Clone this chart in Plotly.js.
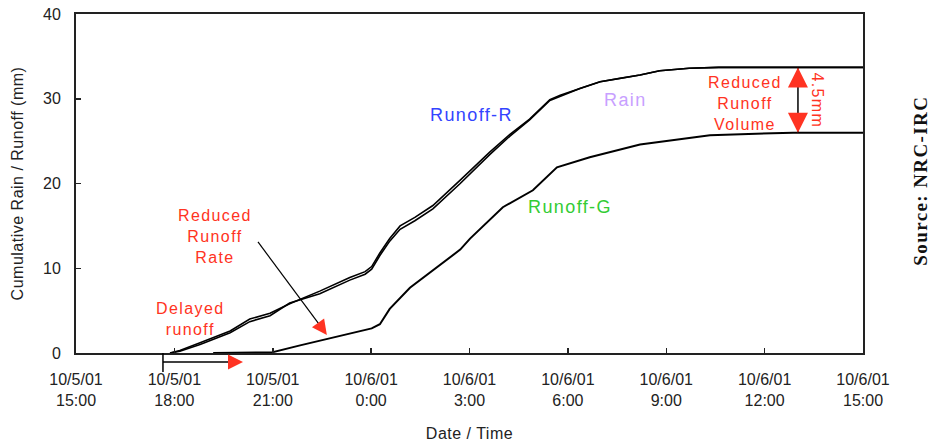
<!DOCTYPE html>
<html>
<head>
<meta charset="utf-8">
<script src="https://cdn.plot.ly/plotly-3.0.1.min.js"></script>
<style>
html,body{margin:0;padding:0;background:#fff;}
#chart{width:931px;height:443px;}
text.annotation-text{letter-spacing:1.4px;}
.g-xtitle text,.g-ytitle text{letter-spacing:0.5px;}
</style>
</head>
<body>
<div id="chart"></div>
<script>
// Cumulative rain (mm)
const rainTime = ["2001-10-05 17:52","2001-10-05 18:10","2001-10-05 18:47","2001-10-05 19:42","2001-10-05 20:18","2001-10-05 20:55","2001-10-05 21:31","2001-10-05 22:26","2001-10-05 23:21","2001-10-05 23:49","2001-10-06 00:01","2001-10-06 00:16","2001-10-06 00:34","2001-10-06 00:53","2001-10-06 01:20","2001-10-06 01:53","2001-10-06 02:43","2001-10-06 03:37","2001-10-06 04:14","2001-10-06 04:50","2001-10-06 05:27","2001-10-06 05:46","2001-10-06 06:22","2001-10-06 06:59","2001-10-06 07:35","2001-10-06 08:12","2001-10-06 08:48","2001-10-06 09:42","2001-10-06 10:36","2001-10-06 15:00"];
const rainValue = [0,0.3,1.2,2.6,4.0,4.7,5.8,7.3,8.9,9.6,10.2,11.8,13.5,15.0,16.0,17.4,20.4,23.7,25.8,27.6,29.9,30.4,31.2,32.0,32.4,32.8,33.3,33.6,33.7,33.7];
// Cumulative runoff, conventional roof (Runoff-R)
const runoffRTime = rainTime;
const runoffRValue = [0,0.2,1.0,2.4,3.7,4.4,5.9,7.0,8.6,9.3,9.9,11.5,13.2,14.6,15.6,17.0,20.0,23.4,25.6,27.5,29.8,30.3,31.2,32.0,32.4,32.8,33.3,33.6,33.7,33.7];
// Cumulative runoff, green roof (Runoff-G)
const runoffGTime = ["2001-10-05 19:11","2001-10-05 21:00","2001-10-05 21:50","2001-10-05 22:50","2001-10-05 23:40","2001-10-06 00:01","2001-10-06 00:16","2001-10-06 00:34","2001-10-06 01:11","2001-10-06 01:42","2001-10-06 02:11","2001-10-06 02:43","2001-10-06 03:01","2001-10-06 04:01","2001-10-06 04:56","2001-10-06 05:40","2001-10-06 06:40","2001-10-06 08:12","2001-10-06 10:20","2001-10-06 12:52","2001-10-06 15:00"];
const runoffGValue = [0,0.1,0.9,1.8,2.5,2.9,3.4,5.2,7.7,9.2,10.6,12.2,13.5,17.2,19.2,21.9,23.1,24.6,25.7,26.0,26.0];
// Axis ticks
const tickVals = ["2001-10-05 15:00","2001-10-05 18:00","2001-10-05 21:00","2001-10-06 00:00","2001-10-06 03:00","2001-10-06 06:00","2001-10-06 09:00","2001-10-06 12:00","2001-10-06 15:00"];
const tickDates = ["10/5/01","10/5/01","10/5/01","10/6/01","10/6/01","10/6/01","10/6/01","10/6/01","10/6/01"];
const tickTimes = ["15:00","18:00","21:00","0:00","3:00","6:00","9:00","12:00","15:00"];
const yTicks = [0,10,20,30,40];

const FONT = "Liberation Sans, Arial, sans-serif";
const RED = "#ff3322";

const traces = [
  {x: rainTime, y: rainValue, name: "Rain", type: "scatter", mode: "lines", line: {color: "#000", width: 1.6}},
  {x: runoffRTime, y: runoffRValue, name: "Runoff-R", type: "scatter", mode: "lines", line: {color: "#000", width: 1.6}},
  {x: runoffGTime, y: runoffGValue, name: "Runoff-G", type: "scatter", mode: "lines", line: {color: "#000", width: 2}}
];

const layout = {
  width: 931, height: 443,
  margin: {l: 76, r: 68, t: 14, b: 90},
  paper_bgcolor: "#fff", plot_bgcolor: "#fff",
  showlegend: false,
  hovermode: false,
  font: {family: FONT, color: "#222", size: 16},
  xaxis: {
    type: "date",
    range: ["2001-10-05 15:00", "2001-10-06 15:00"],
    tickvals: tickVals,
    ticktext: tickVals.map((v, i) => tickDates[i] + "<br>" + tickTimes[i]),
    ticks: "inside", ticklen: 5, tickwidth: 1.5, tickcolor: "#222",
    showline: true, linecolor: "#222", linewidth: 2, mirror: true,
    showgrid: false, zeroline: false,
    tickfont: {family: FONT, size: 16, color: "#222"},
    ticklabelstandoff: 11,
    title: {text: "Date / Time", font: {family: FONT, size: 16, color: "#222"}, standoff: 20},
    automargin: false
  },
  yaxis: {
    range: [0, 40],
    tickvals: yTicks,
    ticks: "inside", ticklen: 5, tickwidth: 1.5, tickcolor: "#222",
    showline: true, linecolor: "#222", linewidth: 2, mirror: true,
    showgrid: false, zeroline: false,
    tickfont: {family: FONT, size: 16, color: "#222"},
    ticklabelstandoff: 10,
    title: {text: "Cumulative Rain / Runoff (mm)", font: {family: FONT, size: 16, color: "#222"}, standoff: 15},
    automargin: false
  },
  shapes: [
    // Reduced runoff rate pointer (black shaft)
    {type: "line", xref: "x", yref: "y", x0: "2001-10-05 20:33", y0: 13.1, x1: "2001-10-05 22:26", y1: 3.3, line: {color: "#000", width: 1.2}},
    // Reduced runoff volume double arrow shaft
    {type: "line", xref: "x", yref: "y", x0: "2001-10-06 13:01", y0: 26.0, x1: "2001-10-06 13:01", y1: 33.7, line: {color: "#000", width: 1.5}},
    // Delayed runoff arrow below axis
    {type: "line", xref: "paper", yref: "paper", x0: 0.1105, y0: -0.0265, x1: 0.198, y1: -0.0265, line: {color: "#000", width: 1.5}},
    {type: "line", xref: "paper", yref: "paper", x0: 0.1105, y0: 0, x1: 0.1105, y1: -0.056, line: {color: "#000", width: 1.5}}
  ],
  annotations: [
    {xref: "x", yref: "y", x: "2001-10-05 19:14", y: 13.7, text: "Reduced<br>Runoff<br>Rate", showarrow: false, font: {family: FONT, size: 16, color: RED}},
    {xref: "x", yref: "y", x: "2001-10-05 18:29", y: 4.0, text: "Delayed<br>runoff", showarrow: false, font: {family: FONT, size: 16, color: RED}},
    {xref: "x", yref: "y", x: "2001-10-06 03:04", y: 28.1, text: "Runoff-R", showarrow: false, font: {family: FONT, size: 18, color: "#3344ff"}},
    {xref: "x", yref: "y", x: "2001-10-06 07:46", y: 29.85, text: "Rain", showarrow: false, font: {family: FONT, size: 18, color: "#c8a0ff"}},
    {xref: "x", yref: "y", x: "2001-10-06 06:04", y: 17.2, text: "Runoff-G", showarrow: false, font: {family: FONT, size: 18, color: "#33cc33"}},
    {xref: "x", yref: "y", x: "2001-10-06 11:24", y: 29.4, text: "Reduced<br>Runoff<br>Volume", showarrow: false, font: {family: FONT, size: 16, color: RED}},
    {xref: "x", yref: "y", x: "2001-10-06 13:37", y: 29.85, text: "4.5mm", textangle: 90, showarrow: false, font: {family: FONT, size: 16, color: RED}},
    // red arrow heads
    {xref: "x", yref: "y", x: "2001-10-05 22:39", y: 2.12, text: "", showarrow: true, ax: -8, ay: -11, arrowhead: 2, arrowsize: 2, arrowwidth: 1.5, arrowcolor: RED},
    {xref: "x", yref: "y", x: "2001-10-06 13:01", y: 33.7, text: "", showarrow: true, ax: 0, ay: 14, arrowhead: 2, arrowsize: 2, arrowwidth: 2, arrowcolor: RED},
    {xref: "x", yref: "y", x: "2001-10-06 13:01", y: 26.0, text: "", showarrow: true, ax: 0, ay: -14, arrowhead: 2, arrowsize: 2, arrowwidth: 2, arrowcolor: RED},
    {xref: "paper", yref: "paper", x: 0.2122, y: -0.0265, text: "", showarrow: true, ax: -12, ay: 0, arrowhead: 2, arrowsize: 2, arrowwidth: 1.5, arrowcolor: RED},
    // source
    {xref: "paper", yref: "paper", x: 1.089, y: 0.507, text: "<b>Source: NRC-IRC</b>", textangle: -90, showarrow: false, font: {family: "Liberation Serif, Times New Roman, serif", size: 19, color: "#111"}}
  ]
};

Plotly.newPlot("chart", traces, layout, {displayModeBar: false, staticPlot: true});
</script>
</body>
</html>
